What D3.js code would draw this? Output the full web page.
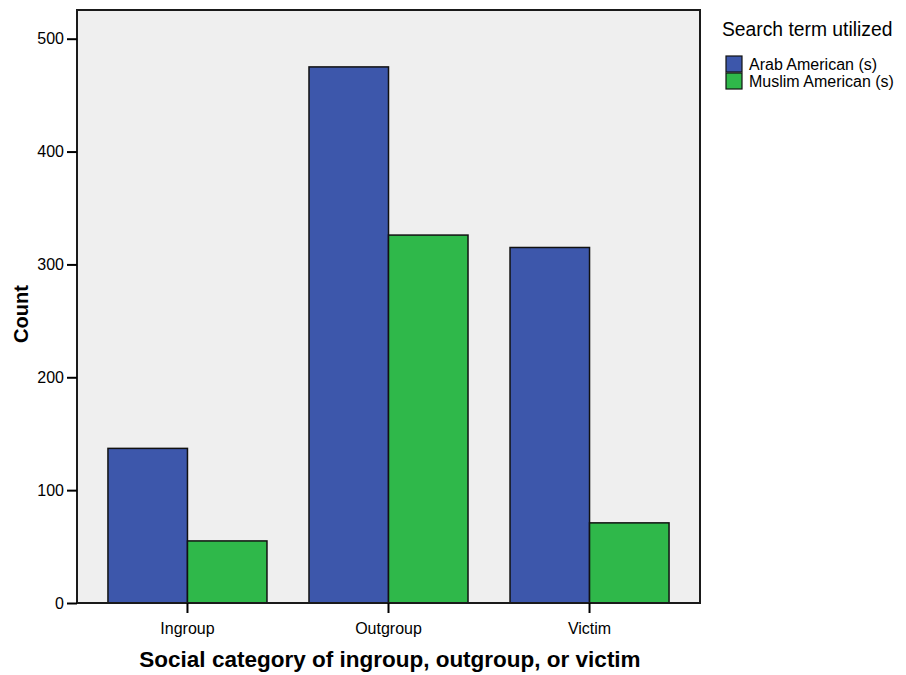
<!DOCTYPE html>
<html>
<head>
<meta charset="utf-8">
<script src="https://cdn.jsdelivr.net/npm/d3@7"></script>
<style>
  body { margin: 0; background: #fff; }
  svg { display: block; font-family: "Liberation Sans", Arial, sans-serif; }
</style>
</head>
<body>
<svg id="chart" width="906" height="675"></svg>
<script>
const categories = ["Ingroup", "Outgroup", "Victim"];
const seriesNames = ["Arab American (s)", "Muslim American (s)"];
const arabValues = [137, 475, 315];
const muslimValues = [55, 326, 71];
const yTicks = [0, 100, 200, 300, 400, 500];
const colors = ["#3d57ab", "#2fb84a"];

(function () {
const svg = d3.select("#chart");
const pLeft = 77, pRight = 700, pTop = 10, pBottom = 603;

const x = d3.scaleBand().domain(categories).range([pLeft, pRight])
  .paddingInner(0.209).paddingOuter(0.154);
const xs = d3.scaleBand().domain(seriesNames).range([0, x.bandwidth()]);
const y = d3.scaleLinear().domain([0, 500]).range([pBottom, 38.7]);

svg.append("rect").attr("x", pLeft).attr("y", pTop).attr("width", pRight - pLeft).attr("height", pBottom - pTop)
  .attr("fill", "#efefef");

const data = categories.map((c, i) => ({ cat: c, vals: [arabValues[i], muslimValues[i]] }));

const g = svg.append("g");
data.forEach(d => {
  d.vals.forEach((v, j) => {
    g.append("rect")
      .attr("x", x(d.cat) + xs(seriesNames[j]))
      .attr("y", y(v))
      .attr("width", xs.bandwidth())
      .attr("height", y(0) - y(v))
      .attr("fill", colors[j])
      .attr("stroke", "#111")
      .attr("stroke-width", 1.5);
  });
});

svg.append("rect").attr("x", pLeft).attr("y", pTop).attr("width", pRight - pLeft).attr("height", pBottom - pTop)
  .attr("fill", "none").attr("stroke", "#1a1a1a").attr("stroke-width", 2);

const yAxis = d3.axisLeft(y).tickValues(yTicks).tickSize(10).tickPadding(3).tickFormat(d3.format("d"));
const yg = svg.append("g").attr("transform", `translate(${pLeft},0)`).call(yAxis);
yg.select(".domain").remove();
yg.selectAll(".tick line").attr("stroke", "#000").attr("stroke-width", 2);
yg.selectAll(".tick text").attr("font-size", 16).attr("fill", "#000")
  .attr("font-family", "Liberation Sans, Arial, sans-serif");

const xAxis = d3.axisBottom(x).tickSize(10).tickPadding(10);
const xg = svg.append("g").attr("transform", `translate(0,${pBottom})`).call(xAxis);
xg.select(".domain").remove();
xg.selectAll(".tick line").attr("stroke", "#000").attr("stroke-width", 2);
xg.selectAll(".tick text").attr("font-size", 16).attr("fill", "#000")
  .attr("font-family", "Liberation Sans, Arial, sans-serif");

svg.append("text").attr("x", 390).attr("y", 667)
  .attr("text-anchor", "middle").attr("font-size", 22.5).attr("font-weight", "bold")
  .text("Social category of ingroup, outgroup, or victim");
svg.append("text").attr("transform", "translate(28,314) rotate(-90)")
  .attr("text-anchor", "middle").attr("font-size", 20).attr("font-weight", "bold")
  .text("Count");

const lg = svg.append("g");
lg.append("text").attr("x", 722).attr("y", 36).attr("font-size", 19.3).text("Search term utilized");
seriesNames.forEach((s, j) => {
  const yy = 56 + j * 17;
  lg.append("rect").attr("x", 726).attr("y", yy).attr("width", 16).attr("height", 16)
    .attr("fill", colors[j]).attr("stroke", "#111").attr("stroke-width", 1.2);
  lg.append("text").attr("x", 749).attr("y", yy + 14).attr("font-size", 16).text(s);
});
})();
</script>
</body>
</html>
